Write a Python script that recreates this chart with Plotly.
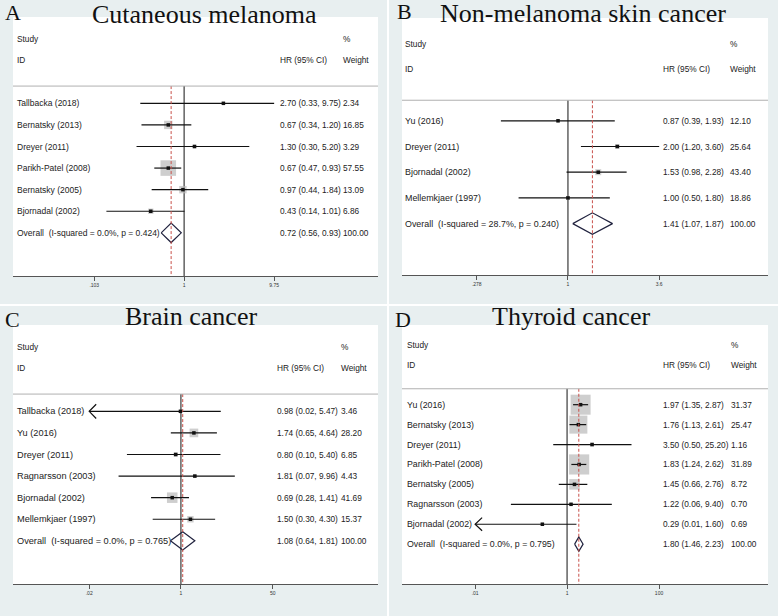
import math
import plotly.graph_objects as go

W, H = 778, 616
BG = "#e8eff0"

# ---------------- Data ----------------
# A: Cutaneous melanoma
a_title = "Cutaneous melanoma"
a_studies = ["Tallbacka (2018)", "Bernatsky (2013)", "Dreyer (2011)", "Parikh-Patel (2008)",
             "Bernatsky (2005)", "Bjornadal (2002)"]
a_hr = [2.70, 0.67, 1.30, 0.67, 0.97, 0.43]
a_lo = [0.33, 0.34, 0.30, 0.47, 0.44, 0.14]
a_hi = [9.75, 1.20, 5.20, 0.93, 1.84, 1.01]
a_w = [2.34, 16.85, 3.29, 57.55, 13.09, 6.86]
a_overall = [0.72, 0.56, 0.93]
a_i2, a_p = "0.0%", "0.424"
a_ticks = [0.103, 1, 9.75]
a_ticktext = [".103", "1", "9.75"]

# B: Non-melanoma skin cancer
b_title = "Non-melanoma skin cancer"
b_studies = ["Yu (2016)", "Dreyer (2011)", "Bjornadal (2002)", "Mellemkjaer (1997)"]
b_hr = [0.87, 2.00, 1.53, 1.00]
b_lo = [0.39, 1.20, 0.98, 0.50]
b_hi = [1.93, 3.60, 2.28, 1.80]
b_w = [12.10, 25.64, 43.40, 18.86]
b_overall = [1.41, 1.07, 1.87]
b_i2, b_p = "28.7%", "0.240"
b_ticks = [0.278, 1, 3.6]
b_ticktext = [".278", "1", "3.6"]

# C: Brain cancer
c_title = "Brain cancer"
c_studies = ["Tallbacka (2018)", "Yu (2016)", "Dreyer (2011)", "Ragnarsson (2003)",
             "Bjornadal (2002)", "Mellemkjaer (1997)"]
c_hr = [0.98, 1.74, 0.80, 1.81, 0.69, 1.50]
c_lo = [0.02, 0.65, 0.10, 0.07, 0.28, 0.30]
c_hi = [5.47, 4.64, 5.40, 9.96, 1.41, 4.30]
c_w = [3.46, 28.20, 6.85, 4.43, 41.69, 15.37]
c_overall = [1.08, 0.64, 1.81]
c_i2, c_p = "0.0%", "0.765"
c_ticks = [0.02, 1, 50]
c_ticktext = [".02", "1", "50"]

# D: Thyroid cancer
d_title = "Thyroid cancer"
d_studies = ["Yu (2016)", "Bernatsky (2013)", "Dreyer (2011)", "Parikh-Patel (2008)",
             "Bernatsky (2005)", "Ragnarsson (2003)", "Bjornadal (2002)"]
d_hr = [1.97, 1.76, 3.50, 1.83, 1.45, 1.22, 0.29]
d_lo = [1.35, 1.13, 0.50, 1.24, 0.66, 0.06, 0.01]
d_hi = [2.87, 2.61, 25.20, 2.62, 2.76, 9.40, 1.60]
d_w = [31.37, 25.47, 1.16, 31.89, 8.72, 0.70, 0.69]
d_overall = [1.80, 1.46, 2.23]
d_i2, d_p = "0.0%", "0.795"
d_ticks = [0.01, 1, 100]
d_ticktext = [".01", "1", "100"]

panels = [
    dict(letter="A", title=a_title, studies=a_studies, hr=a_hr, lo=a_lo, hi=a_hi, w=a_w,
         overall=a_overall, i2=a_i2, p=a_p, ticks=a_ticks, ticktext=a_ticktext,
         dom=(13, 378, 17, 276), xr=(-1.88, 2.13), box=2.05, font=8.5,
         lab_x=0.011, est_x=0.731, wt_x=0.904, dia_h=0.45,
         title_xy=(204.5, 15), letter_xy=(5, 13)),
    dict(letter="B", title=b_title, studies=b_studies, hr=b_hr, lo=b_lo, hi=b_hi, w=b_w,
         overall=b_overall, i2=b_i2, p=b_p, ticks=b_ticks, ticktext=b_ticktext,
         dom=(402, 768, 18, 275), xr=(-1.012, 1.22), box=0.91, font=8.9,
         lab_x=0.008, est_x=0.713, wt_x=0.896, dia_h=0.42,
         title_xy=(583, 14), letter_xy=(397, 11)),
    dict(letter="C", title=c_title, studies=c_studies, hr=c_hr, lo=c_lo, hi=c_hi, w=c_w,
         overall=c_overall, i2=c_i2, p=c_p, ticks=c_ticks, ticktext=c_ticktext,
         dom=(13, 378, 325, 584), xr=(-3.11, 3.65), box=1.63, font=9.2,
         lab_x=0.011, est_x=0.723, wt_x=0.899, dia_h=0.42,
         title_xy=(190.5, 316), letter_xy=(5, 320)),
    dict(letter="D", title=d_title, studies=d_studies, hr=d_hr, lo=d_lo, hi=d_hi, w=d_w,
         overall=d_overall, i2=d_i2, p=d_p, ticks=d_ticks, ticktext=d_ticktext,
         dom=(402, 768, 325, 584), xr=(-3.59, 4.37), box=3.57, font=8.8,
         lab_x=0.014, est_x=0.713, wt_x=0.899, dia_h=0.36,
         title_xy=(570.5, 316), letter_xy=(395, 320)),
]

TXT = "#222222"
SANS = "Liberation Sans, Arial, sans-serif"
SERIF = "Liberation Serif, Times New Roman, serif"
COL_FONT = 8.3

fig = go.Figure()
annotations = []
shapes = []
layout_axes = {}

for k, pn in enumerate(panels, start=1):
    xa = "x" if k == 1 else f"x{k}"
    ya = "y" if k == 1 else f"y{k}"
    xkey = "xaxis" if k == 1 else f"xaxis{k}"
    ykey = "yaxis" if k == 1 else f"yaxis{k}"
    x0, x1, y0, y1 = pn["dom"]
    n = len(pn["studies"])
    rows = list(range(n))
    top, bottom = -4, n + 2
    hline_y = -0.8
    est, olo, ohi = pn["overall"]

    layout_axes[xkey] = dict(
        type="log", range=list(pn["xr"]), domain=[x0 / W, x1 / W], anchor=ya,
        tickvals=pn["ticks"], ticktext=pn["ticktext"], ticks="outside", ticklen=4,
        tickwidth=1, tickcolor="#555", tickfont=dict(size=5, color="#333", family=SANS),
        showgrid=False, zeroline=False, showline=True, linecolor="#555", linewidth=1.2,
    )
    layout_axes[ykey] = dict(
        range=[bottom, top], domain=[1 - y1 / H, 1 - y0 / H], anchor=xa, visible=False,
        showgrid=False, zeroline=False,
    )

    # header separator line
    shapes.append(dict(type="line", xref=f"{xa} domain", yref=ya, x0=0, x1=1,
                       y0=hline_y, y1=hline_y, line=dict(color="#b0b0b0", width=1)))

    # null line at 1
    fig.add_trace(go.Scatter(x=[1, 1], y=[hline_y, bottom], mode="lines",
                             line=dict(color="#3a3a3a", width=1.2), xaxis=xa, yaxis=ya,
                             hoverinfo="skip", showlegend=False))

    # weight boxes
    fig.add_trace(go.Scatter(x=pn["hr"], y=rows, mode="markers",
                             marker=dict(symbol="square", color="#b9b9b9",
                                         size=[pn["box"] * math.sqrt(v) for v in pn["w"]],
                                         line=dict(width=0)),
                             xaxis=xa, yaxis=ya, showlegend=False, hoverinfo="skip"))

    # CI lines
    cx, cy = [], []
    for i in rows:
        cx += [pn["lo"][i], pn["hi"][i], None]
        cy += [i, i, None]
    fig.add_trace(go.Scatter(x=cx, y=cy, mode="lines", line=dict(color="#111", width=1.2),
                             xaxis=xa, yaxis=ya, showlegend=False, hoverinfo="skip"))

    # arrows for truncated lower CI
    dec_per_px = (pn["xr"][1] - pn["xr"][0]) / (x1 - x0)
    arm = 10 ** (7 * dec_per_px)
    ax_, ay_ = [], []
    for i in rows:
        if pn["lo"][i] <= pn["ticks"][0]:
            tip = pn["lo"][i]
            ax_ += [tip * arm, tip, tip * arm, None]
            ay_ += [i - 0.33, i, i + 0.33, None]
    if ax_:
        fig.add_trace(go.Scatter(x=ax_, y=ay_, mode="lines", line=dict(color="#111", width=1.2),
                                 xaxis=xa, yaxis=ya, showlegend=False, hoverinfo="skip"))

    # point estimates
    fig.add_trace(go.Scatter(x=pn["hr"], y=rows, mode="markers",
                             marker=dict(symbol="square", color="#111", size=3.5),
                             xaxis=xa, yaxis=ya, showlegend=False, hoverinfo="skip"))

    # overall diamond
    h = pn["dia_h"]
    fig.add_trace(go.Scatter(x=[olo, est, ohi, est, olo], y=[n, n - h, n, n + h, n],
                             mode="lines", line=dict(color="#20223e", width=1.2),
                             xaxis=xa, yaxis=ya, showlegend=False, hoverinfo="skip"))

    # overall red dashed line
    fig.add_trace(go.Scatter(x=[est, est], y=[hline_y, bottom], mode="lines",
                             line=dict(color="#c8504a", width=1, dash="3px,2px"),
                             xaxis=xa, yaxis=ya, showlegend=False, hoverinfo="skip"))

    def txt(xd, yv, s, size):
        annotations.append(dict(xref=f"{xa} domain", yref=ya, x=xd, y=yv, text=s,
                                showarrow=False, xanchor="left", yanchor="middle",
                                borderpad=0, borderwidth=0,
                                font=dict(family=SANS, size=size, color=TXT)))

    fs = pn["font"]
    # headers
    txt(pn["lab_x"], -3, "Study", COL_FONT)
    txt(pn["lab_x"], -2, "ID", COL_FONT)
    txt(pn["est_x"], -2, "HR (95% CI)", COL_FONT)
    txt(pn["wt_x"], -3, "%", COL_FONT)
    txt(pn["wt_x"], -2, "Weight", COL_FONT)

    for i in rows:
        txt(pn["lab_x"], i, pn["studies"][i], fs)
        txt(pn["est_x"], i, f"{pn['hr'][i]:.2f} ({pn['lo'][i]:.2f}, {pn['hi'][i]:.2f})", COL_FONT)
        txt(pn["wt_x"], i, f"{pn['w'][i]:.2f}", COL_FONT)
    txt(pn["lab_x"], n, f"Overall\u00a0 (I-squared = {pn['i2']}, p = {pn['p']})", fs)
    txt(pn["est_x"], n, f"{est:.2f} ({olo:.2f}, {ohi:.2f})", COL_FONT)
    txt(pn["wt_x"], n, f"{100:.2f}", COL_FONT)

    # title and letter
    tx, ty = pn["title_xy"]
    annotations.append(dict(xref="paper", yref="paper", x=tx / W, y=1 - ty / H, text=pn["title"],
                            showarrow=False, xanchor="center", yanchor="middle",
                            borderpad=0, borderwidth=0,
                            font=dict(family=SERIF, size=26, color="#111")))
    lx, ly = pn["letter_xy"]
    annotations.append(dict(xref="paper", yref="paper", x=lx / W, y=1 - ly / H, text=pn["letter"],
                            showarrow=False, xanchor="left", yanchor="middle",
                            borderpad=0, borderwidth=0,
                            font=dict(family=SERIF, size=22, color="#111")))

# white separators of the composite image
shapes.append(dict(type="line", xref="paper", yref="paper", x0=388 / W, x1=388 / W, y0=0, y1=1,
                   line=dict(color="white", width=2), layer="below"))
shapes.append(dict(type="line", xref="paper", yref="paper", x0=0, x1=1, y0=1 - 305 / H, y1=1 - 305 / H,
                   line=dict(color="white", width=2), layer="below"))

fig.update_layout(
    width=W, height=H, margin=dict(l=0, r=0, t=0, b=0),
    paper_bgcolor=BG, plot_bgcolor="white", showlegend=False,
    annotations=annotations, shapes=shapes, **layout_axes,
)

fig.write_html("out.html", config={"displayModeBar": False},
               post_script="document.body.style.margin='0';")
